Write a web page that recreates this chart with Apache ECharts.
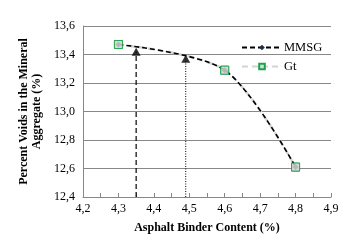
<!DOCTYPE html>
<html>
<head>
<meta charset="utf-8">
<script src="https://cdn.jsdelivr.net/npm/echarts@6/dist/echarts.min.js"></script>
<style>html,body{margin:0;padding:0;background:#fff}#c{width:359px;height:243px}</style>
</head>
<body>
<div id="c"></div>
<script>
var binder = [4.3, 4.6, 4.8];
var mmsg = [13.47, 13.29, 12.61];
var gt = [13.47, 13.29, 12.61];
var optX = [4.35, 4.49];
var optY = [13.42, 13.37];
var xTicks = [4.2, 4.3, 4.4, 4.5, 4.6, 4.7, 4.8, 4.9];
var yTicks = [12.4, 12.6, 12.8, 13.0, 13.2, 13.4, 13.6];

var font = '"Liberation Serif", "Times New Roman", serif';
function pairs(xs, ys) { return xs.map(function (x, i) { return [x, ys[i]]; }); }
var yMin = yTicks[0], yMax = yTicks[yTicks.length - 1];

var chart = echarts.init(document.getElementById('c'), null, {renderer: 'canvas'});
chart.setOption({
  animation: false,
  backgroundColor: '#fff',
  grid: {left: 83, right: 28, top: 26, bottom: 46},
  legend: {
    orient: 'vertical', left: 236, top: 36,
    itemWidth: 40, itemHeight: 7, itemGap: 6,
    data: ['MMSG', 'Gt'],
    textStyle: {fontFamily: font, fontSize: 12.5, color: '#000', padding: [0, 0, 0, -3]}
  },
  xAxis: {
    type: 'value', min: xTicks[0], max: xTicks[xTicks.length - 1], interval: 0.1,
    name: 'Asphalt Binder Content (%)', nameLocation: 'middle', nameGap: 25,
    nameTextStyle: {fontFamily: font, fontSize: 12, fontWeight: 'bold', color: '#000'},
    axisLine: {lineStyle: {color: '#888', width: 1}},
    axisTick: {show: true, inside: true, length: 4, lineStyle: {color: '#888'}},
    minorTick: {show: true, splitNumber: 2, length: 4, lineStyle: {color: '#888'}},
    axisLabel: {fontFamily: font, fontSize: 12, color: '#000', margin: 6,
      formatter: function (v) { return v.toFixed(1).replace('.', ','); }},
    splitLine: {show: false}
  },
  yAxis: {
    type: 'value', min: yMin, max: yMax, interval: 0.2,
    name: 'Percent Voids in the Mineral\nAggregate (%)', nameLocation: 'middle', nameGap: 39,
    nameTextStyle: {fontFamily: font, fontSize: 12, fontWeight: 'bold', color: '#000', lineHeight: 13},
    axisLine: {show: true, lineStyle: {color: '#888', width: 1}},
    axisTick: {show: false},
    axisLabel: {fontFamily: font, fontSize: 12, color: '#000', margin: 8,
      formatter: function (v) { return v.toFixed(1).replace('.', ','); }},
    splitLine: {show: true, lineStyle: {color: '#888', width: 1}}
  },
  series: [
    {
      name: 'Gt', type: 'line', smooth: 0.3, z: 2,
      data: pairs(binder, gt),
      symbol: 'rect', symbolSize: 8,
      itemStyle: {color: '#d9d9d9', borderColor: '#1aa34a', borderWidth: 1},
      lineStyle: {color: '#d4d4d4', width: 2.5, type: [6, 4]}
    },
    {
      name: 'MMSG', type: 'line', smooth: 0.3, z: 3,
      data: pairs(binder, mmsg),
      symbol: 'diamond', symbolSize: 6,
      itemStyle: {color: '#1f2d4a'},
      lineStyle: {color: '#000', width: 1.6, type: [5, 3]}
    },
    {
      name: 'GtMarkers', type: 'scatter', z: 4,
      data: pairs(binder, gt),
      symbol: 'rect', symbolSize: 8,
      itemStyle: {color: '#d9d9d9', borderColor: '#1aa34a', borderWidth: 1}
    },
    {
      name: 'opt1', type: 'line', z: 3, symbol: 'none',
      data: [[optX[0], yMin], [optX[0], optY[0]]],
      lineStyle: {color: '#000', width: 1.2, type: [5, 3]}
    },
    {
      name: 'opt2', type: 'line', z: 3, symbol: 'none',
      data: [[optX[1], yMin], [optX[1], optY[1]]],
      lineStyle: {color: '#000', width: 1, type: [1, 1.5]}
    },
    {
      name: 'opt', type: 'scatter', z: 5,
      data: pairs(optX, optY),
      symbol: 'triangle', symbolSize: [9, 8],
      itemStyle: {color: '#000'}
    }
  ]
});
</script>
</body>
</html>
